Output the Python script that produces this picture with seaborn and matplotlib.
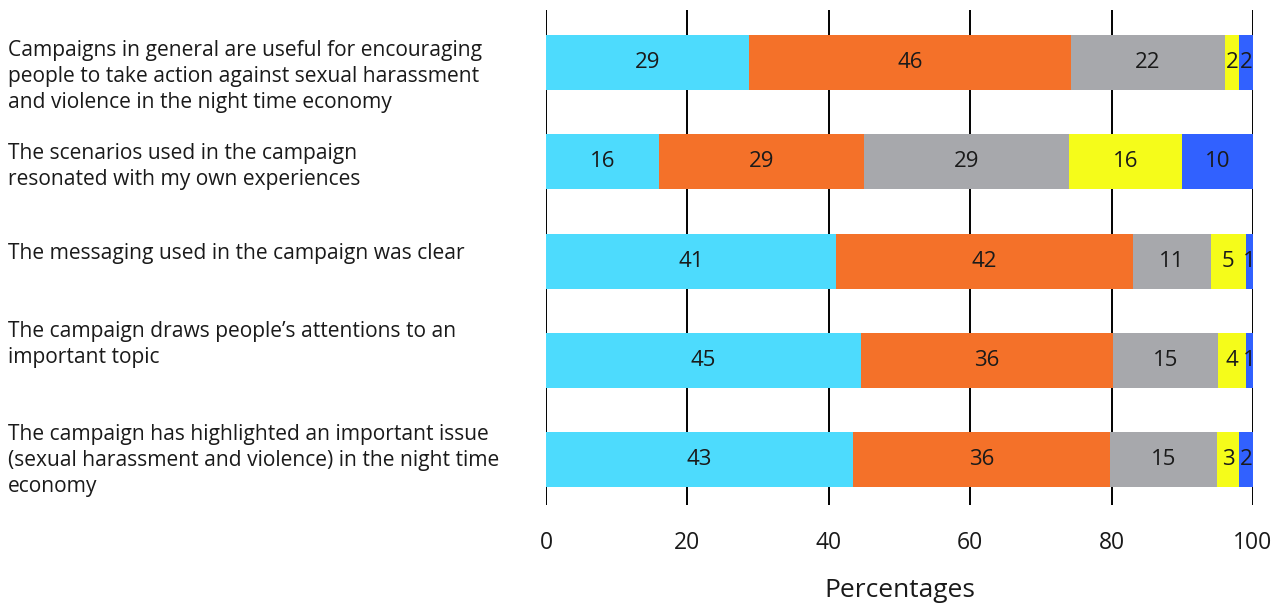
import numpy as np
import pandas as pd
import matplotlib
matplotlib.use("Agg")
import matplotlib.pyplot as plt
import matplotlib.transforms as mtransforms
import seaborn as sns

# Survey statements (top to bottom)
statements = [
    "Campaigns in general are useful for encouraging\npeople to take action against sexual harassment\nand violence in the night time economy",
    "The scenarios used in the campaign\nresonated with my own experiences",
    "The messaging used in the campaign was clear",
    "The campaign draws people\u2019s attentions to an\nimportant topic",
    "The campaign has highlighted an important issue\n(sexual harassment and violence) in the night time\neconomy",
]

# Response shares (%) per statement
strongly_agree = [29, 16, 41, 45, 43]
agree = [46, 29, 42, 36, 36]
neutral = [22, 29, 11, 15, 15]
disagree = [2, 16, 5, 4, 3]
strongly_disagree = [2, 10, 1, 1, 2]

responses = ["Strongly agree", "Agree", "Neither", "Disagree", "Strongly disagree"]
palette = ["#4DDBFD", "#F47129", "#A7A8AC", "#F5FC1A", "#3161FF"]

x_ticks = [0, 20, 40, 60, 80, 100]
x_label = "Percentages"

sns.set_theme(style="white")
plt.rcParams["font.family"] = ["Open Sans", "DejaVu Sans"]
text_color = "#1a1a1a"

values = np.array([strongly_agree, agree, neutral, disagree, strongly_disagree], dtype=float)
# each bar spans the full 100 %: scale the rounded shares by their row total
shares = values / values.sum(axis=0) * 100
cum = np.cumsum(shares, axis=0)
row_ids = [str(i) for i in range(len(statements))]

fig = plt.figure(figsize=(12.78, 6.04), dpi=100)
ax = fig.add_axes([0.4272, 0.1639, 0.9804 - 0.4272, 0.9834 - 0.1639])

# Stacked bars: draw cumulative totals from the last segment back to the first
for k in range(len(responses) - 1, -1, -1):
    df = pd.DataFrame({"row": row_ids, "total": cum[k]})
    sns.barplot(data=df, x="total", y="row", order=row_ids, orient="h",
                color=palette[k], saturation=1, width=0.554, linewidth=0,
                ax=ax, zorder=2)

ax.set_xlim(0, 100)
ax.set_ylim(4.458, -0.529)

# Segment value labels
for k in range(len(responses)):
    for i in range(len(statements)):
        ax.text(cum[k, i] - shares[k, i] / 2, i, f"{values[k, i]:.0f}",
                ha="center", va="center", fontsize=16, color=text_color, zorder=3)

# Vertical grid lines
ax.set_xticks(x_ticks)
ax.set_xticklabels([str(t) for t in x_ticks])
ax.grid(axis="x", color="black", linewidth=1.4, zorder=0)
ax.grid(axis="y", visible=False)
ax.set_axisbelow(True)
for s in ax.spines.values():
    s.set_visible(False)

ax.tick_params(axis="x", length=0, pad=19, labelsize=16.5, labelcolor=text_color)
ax.set_xlabel(x_label, fontsize=19, color=text_color, labelpad=16)
ax.set_ylabel("")

# Left-aligned statement labels
ax.set_yticks(range(len(statements)))
ax.set_yticklabels(statements, ha="left", fontsize=15.1, color=text_color,
                   linespacing=1.31)
ax.tick_params(axis="y", length=0, pad=538 * 72 / 100)
label_shift_px = [9, 0, -10, -21, -4]
for lab, dy in zip(ax.get_yticklabels(), label_shift_px):
    lab.set_transform(lab.get_transform() +
                      mtransforms.ScaledTranslation(0, -dy / 100, fig.dpi_scale_trans))

fig.savefig("out.png", dpi=100)
